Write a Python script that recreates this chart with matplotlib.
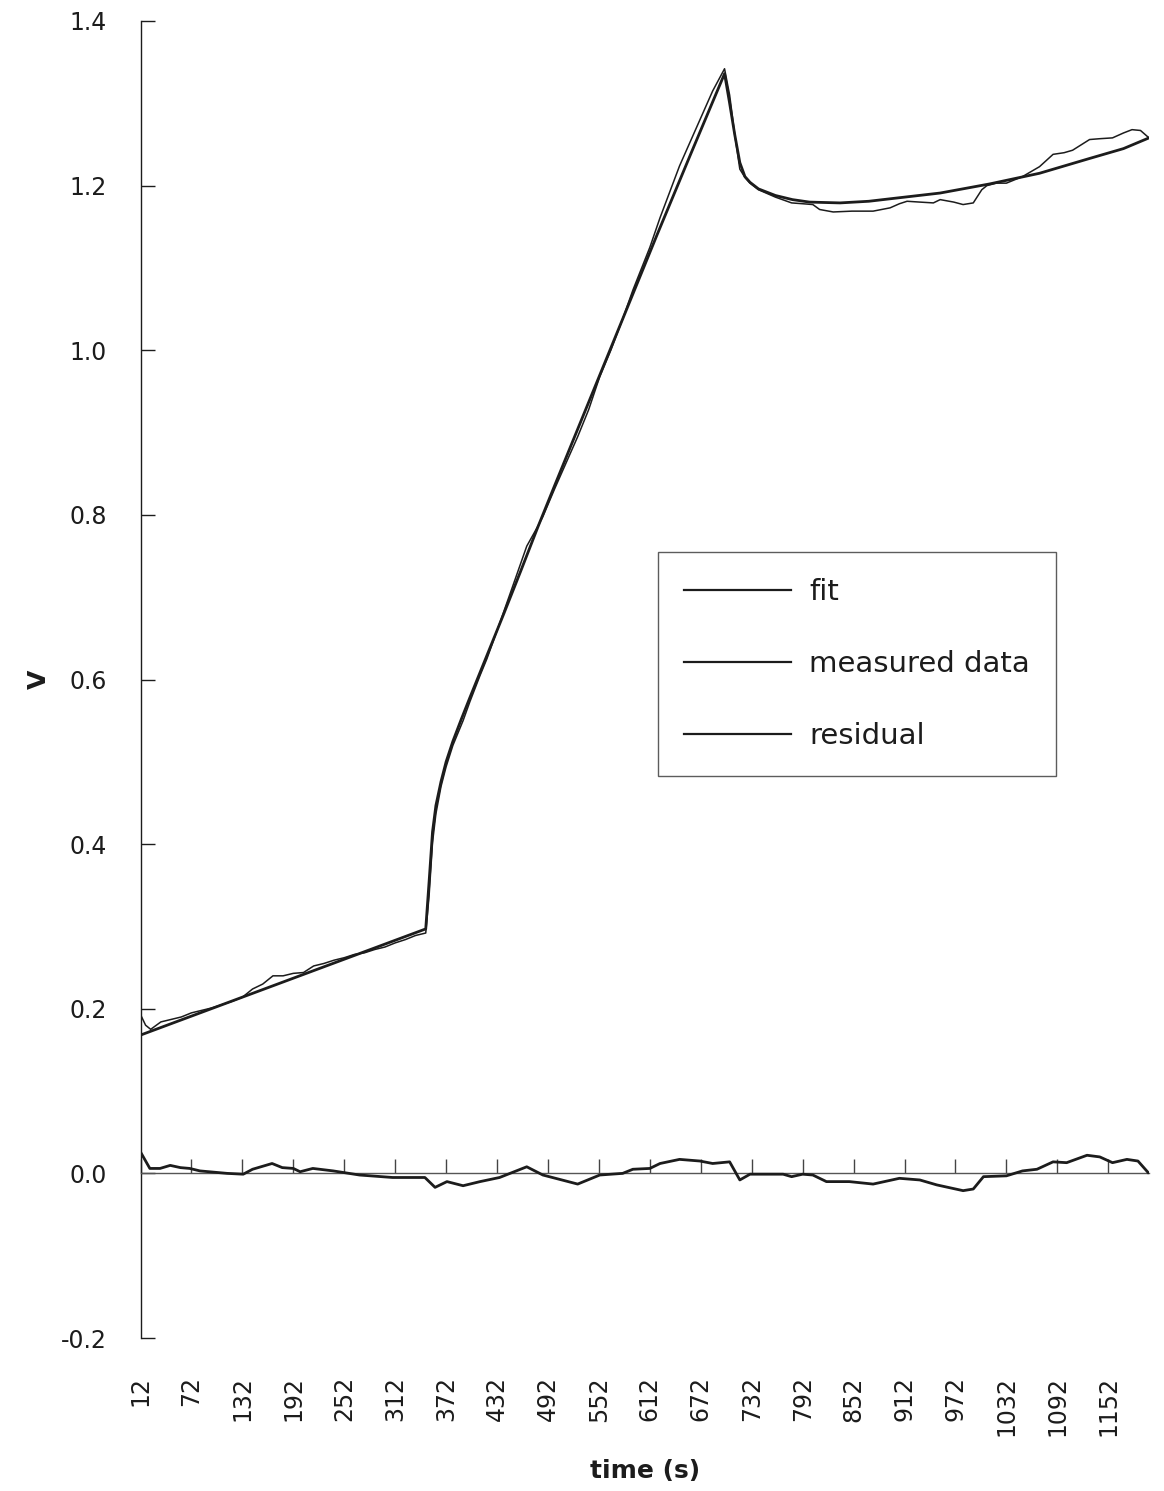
import matplotlib
matplotlib.use("Agg")
import matplotlib.pyplot as plt

# ---- data -------------------------------------------------------------
# fitted model
fit_t = [12, 348, 352, 356, 360, 366, 372, 380, 390, 400, 420, 440, 460, 480,
         500, 540, 580, 620, 660, 700, 706, 712, 718, 724, 730, 740, 760, 780,
         800, 836, 870, 895, 954, 1012, 1071, 1130, 1170, 1200]
fit_v = [0.168, 0.297, 0.355, 0.415, 0.447, 0.476, 0.500, 0.525, 0.552, 0.578,
         0.629, 0.680, 0.732, 0.785, 0.836, 0.937, 1.038, 1.139, 1.238, 1.336,
         1.300, 1.262, 1.228, 1.211, 1.204, 1.196, 1.188, 1.183, 1.180, 1.179,
         1.181, 1.184, 1.191, 1.202, 1.215, 1.233, 1.245, 1.258]

# measured voltage
meas_t = [12, 18, 24, 36, 48, 60, 72, 84, 96, 108, 120, 132, 144, 156, 168,
          180, 192, 204, 216, 228, 240, 252, 264, 276, 288, 300, 312, 324, 336,
          348, 352, 356, 360, 366, 372, 380, 392, 400, 412, 420, 435, 450, 467,
          480, 486, 500, 527, 540, 553, 566, 580, 592, 612, 624, 647, 671, 686,
          700, 706, 712, 718, 724, 730, 740, 760, 779, 792, 804, 812, 828, 850,
          875, 895, 906, 915, 930, 946, 954, 970, 981, 993, 1003, 1009, 1020,
          1032, 1051, 1071, 1087, 1100, 1110, 1130, 1142, 1157, 1170, 1180,
          1190, 1200]
meas_v = [0.193, 0.180, 0.175, 0.184, 0.187, 0.190, 0.195, 0.198, 0.201, 0.205,
          0.209, 0.214, 0.224, 0.230, 0.240, 0.240, 0.243, 0.244, 0.252, 0.255,
          0.259, 0.262, 0.266, 0.268, 0.272, 0.275, 0.280, 0.284, 0.289, 0.292,
          0.338, 0.402, 0.437, 0.470, 0.494, 0.520, 0.550, 0.573, 0.605, 0.625,
          0.668, 0.712, 0.762, 0.786, 0.798, 0.832, 0.895, 0.928, 0.968, 1.000,
          1.038, 1.073, 1.125, 1.161, 1.224, 1.280, 1.315, 1.342, 1.310, 1.262,
          1.220, 1.210, 1.203, 1.195, 1.186, 1.179, 1.178, 1.177, 1.171, 1.168,
          1.169, 1.169, 1.173, 1.178, 1.181, 1.180, 1.179, 1.183, 1.180, 1.177,
          1.179, 1.195, 1.200, 1.203, 1.203, 1.211, 1.223, 1.238, 1.240, 1.243,
          1.256, 1.257, 1.258, 1.264, 1.268, 1.267, 1.258]

# residual (measured - fit)
res_t = [12, 23, 35, 47, 59, 70, 82, 114, 133, 144, 167, 179, 192, 200, 215,
         239, 270, 309, 347, 359, 373, 392, 412, 435, 467, 486, 527, 553, 580,
         592, 612, 624, 647, 671, 686, 706, 718, 730, 769, 779, 792, 804, 820,
         847, 875, 906, 930, 950, 981, 993, 1005, 1032, 1051, 1068, 1087, 1103,
         1127, 1142, 1157, 1174, 1187, 1199]
res_v = [0.026, 0.006, 0.006, 0.0097, 0.007, 0.006, 0.003, 0.0, -0.001, 0.005,
         0.012, 0.007, 0.006, 0.002, 0.006, 0.003, -0.002, -0.005, -0.005,
         -0.017, -0.010, -0.015, -0.010, -0.005, 0.008, -0.002, -0.013, -0.002,
         0.0, 0.005, 0.006, 0.012, 0.017, 0.015, 0.012, 0.014, -0.008, -0.001,
         -0.001, -0.004, -0.001, -0.002, -0.010, -0.010, -0.013, -0.006, -0.008,
         -0.014, -0.021, -0.019, -0.004, -0.003, 0.003, 0.005, 0.014, 0.013,
         0.022, 0.020, 0.013, 0.017, 0.015, 0.001]

x_ticks = list(range(12, 1153, 60))
y_ticks = [-0.2, 0.0, 0.2, 0.4, 0.6, 0.8, 1.0, 1.2, 1.4]

# ---- figure -----------------------------------------------------------
plt.rcParams['font.family'] = ['DejaVu Sans']
W, H = 1164, 1491
fig = plt.figure(figsize=(W / 100, H / 100), dpi=100)
fig.patch.set_facecolor('white')

left_px, right_px, top_px, bot_px = 140.5, 1149, 21, 1338
ax = fig.add_axes([left_px / W, 1 - bot_px / H,
                   (right_px - left_px) / W, (bot_px - top_px) / H])

ink = '#1c1c1c'
ax.plot(fit_t, fit_v, color=ink, lw=2.0, label='fit', zorder=3)
ax.plot(meas_t, meas_v, color=ink, lw=1.1, label='measured data', zorder=3)
ax.plot(res_t, res_v, color=ink, lw=2.0, label='residual', zorder=3)

ax.set_xlim(12, 1200)
ax.set_ylim(-0.2, 1.4)

for s in ('top', 'right'):
    ax.spines[s].set_visible(False)
ax.spines['left'].set_color(ink)
ax.spines['left'].set_linewidth(1.0)
ax.spines['bottom'].set_position(('data', 0))
ax.spines['bottom'].set_color('#555555')
ax.spines['bottom'].set_linewidth(1.0)

ax.set_xticks(x_ticks)
ax.set_xticklabels([str(t) for t in x_ticks], rotation=90)
ax.set_yticks(y_ticks)
ax.set_yticklabels([f"{v:.1f}" for v in y_ticks])

ax.tick_params(axis='x', direction='in', length=10, width=1.0, color='#444444',
               pad=146, labelsize=17, labelcolor=ink)
ax.tick_params(axis='y', direction='in', length=10, width=1.0, color=ink,
               pad=24, labelsize=17, labelcolor=ink)

ax.set_xlabel('time (s)', fontsize=18, fontweight='bold', color=ink)
ax.xaxis.set_label_coords(0.5, -0.092)
ax.set_ylabel('V', fontsize=18, fontweight='bold', color=ink)
ax.yaxis.set_label_coords(-(left_px - 51) / (right_px - left_px), 0.5)

leg = ax.legend(loc='upper left',
                bbox_to_anchor=((658 - left_px) / (right_px - left_px),
                                (bot_px - 552) / (bot_px - top_px)),
                frameon=True, fancybox=False, shadow=False, fontsize=21,
                handlelength=3.66, handletextpad=0.62, labelspacing=1.5,
                borderpad=0.9, borderaxespad=0.0, labelcolor=ink)
leg.get_frame().set_edgecolor('#333333')
leg.get_frame().set_linewidth(1.0)
for ln in leg.get_lines():
    ln.set_linewidth(1.6)

fig.savefig('out.png', dpi=100, facecolor='white')
